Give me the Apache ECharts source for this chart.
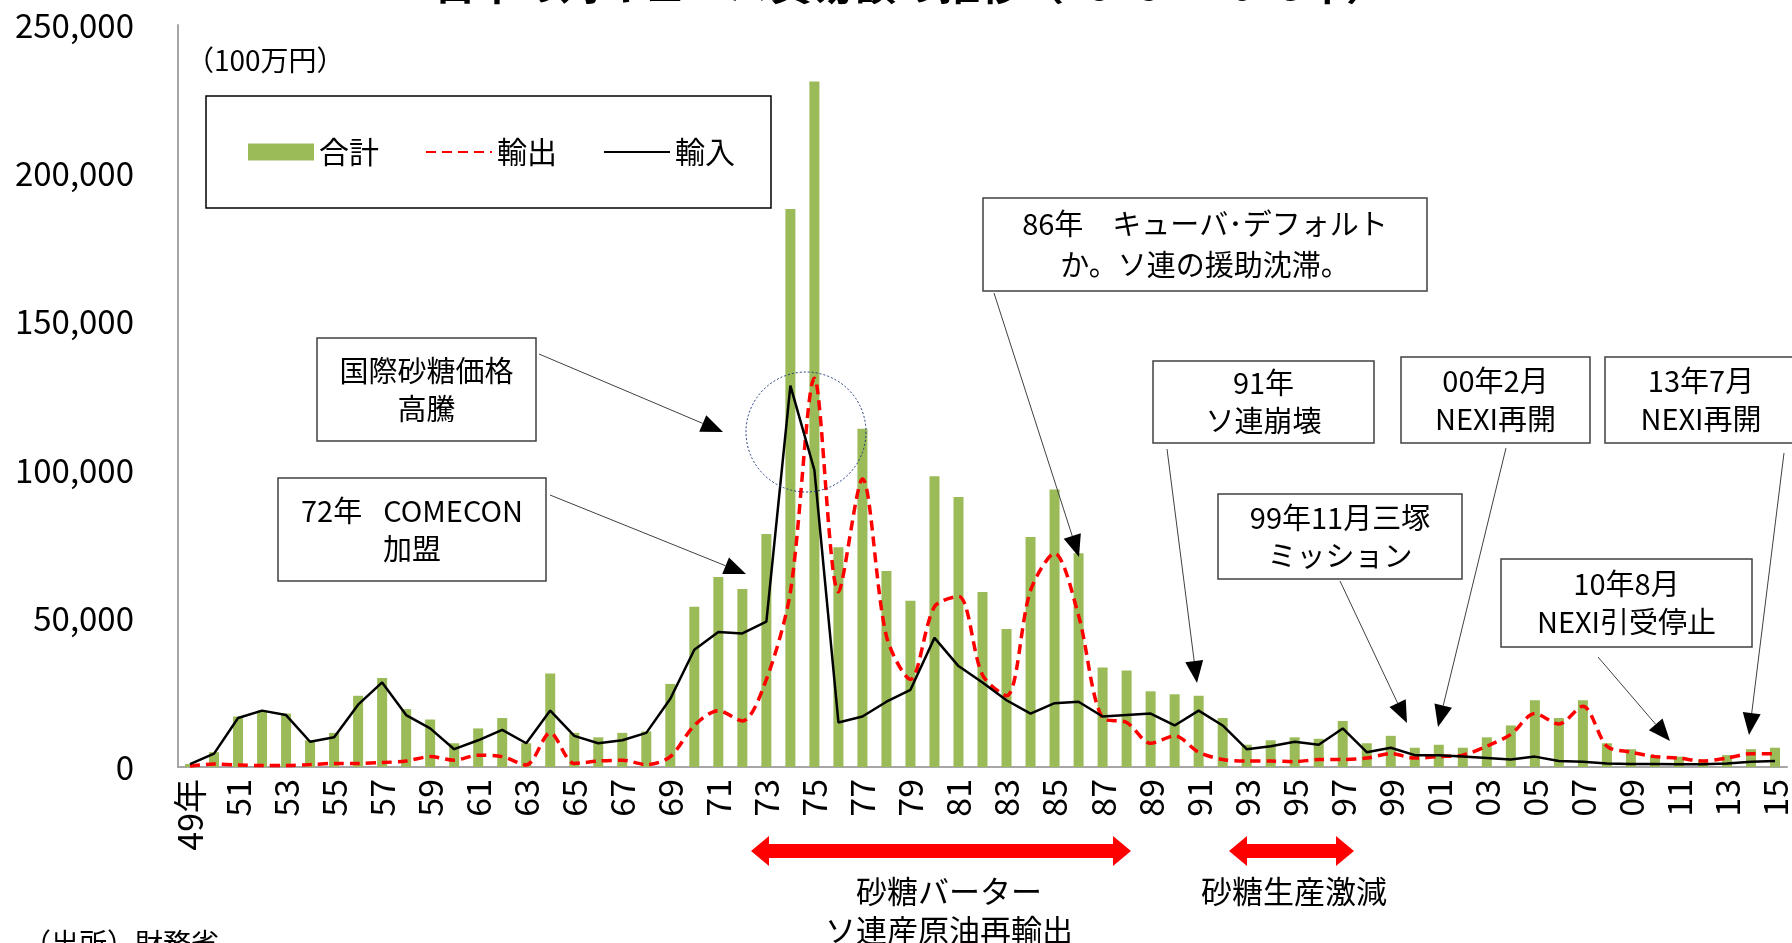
<!DOCTYPE html>
<html>
<head>
<meta charset="utf-8">
<script src="https://cdn.jsdelivr.net/npm/echarts@6/dist/echarts.min.js"></script>
<style>
  body { margin: 0; background: #fff; }
  #main { width: 1792px; height: 943px; }
</style>
</head>
<body>
<div id="main"></div>
<script>
// 年次（1949〜2015）
var years = ['49年', '50', '51', '52', '53', '54', '55', '56', '57', '58', '59',
  '60', '61', '62', '63', '64', '65', '66', '67', '68', '69',
  '70', '71', '72', '73', '74', '75', '76', '77', '78', '79',
  '80', '81', '82', '83', '84', '85', '86', '87', '88', '89',
  '90', '91', '92', '93', '94', '95', '96', '97', '98', '99',
  '00', '01', '02', '03', '04', '05', '06', '07', '08', '09',
  '10', '11', '12', '13', '14', '15'];

// 合計（100万円）
var total = [1000, 5000, 17000, 19000, 18000, 9000, 11500, 24000, 30000, 19500, 16000,
  8000, 13000, 16500, 8000, 31500, 11500, 10000, 11500, 12000, 28000,
  54000, 64000, 60000, 78500, 188000, 231000, 74000, 114000, 66000, 56000,
  98000, 91000, 59000, 46500, 77500, 93500, 72000, 33500, 32500, 25500,
  24500, 24000, 16500, 7500, 9000, 10000, 9500, 15500, 8000, 10500,
  6500, 7500, 6500, 10000, 14000, 22500, 16500, 22500, 8000, 6000,
  4000, 3500, 2500, 4000, 6000, 6500];

// 輸出
var exportsJp = [300, 1000, 700, 500, 500, 800, 1200, 1200, 1500, 2000, 3500,
  2300, 4000, 3500, 700, 11500, 1200, 2000, 2300, 800, 3500,
  14000, 19000, 15500, 29500, 59000, 131000, 59000, 97000, 44000, 29500,
  54000, 57500, 31000, 24000, 59500, 72000, 51000, 16500, 15000, 8000,
  10500, 5000, 2500, 2000, 2000, 1800, 2500, 2500, 3000, 4500,
  3000, 3500, 4000, 7000, 11000, 18000, 14500, 20500, 7000, 5000,
  3500, 3000, 2000, 3000, 4500, 4500];

// 輸入
var importsJp = [1000, 4500, 16500, 19000, 17500, 8500, 10000, 21000, 28500, 17500, 13000,
  6000, 9000, 12500, 8000, 19000, 10500, 8000, 9000, 11500, 23000,
  39500, 45500, 45000, 49000, 128500, 100000, 15000, 17000, 22000, 26000,
  43500, 34000, 28500, 22500, 18000, 21500, 22000, 17000, 17500, 18000,
  14000, 19000, 14000, 6000, 7000, 8500, 7500, 13000, 5000, 6500,
  4000, 4000, 3500, 3000, 2500, 3500, 2000, 1800, 1200, 1000,
  1000, 900, 900, 1200, 1800, 2000];

var FONT = '"Noto Sans CJK JP", "Noto Sans", sans-serif';

// 注記の吹き出し
function box(x, y, w, h, text, lh) {
  return [
    { type: 'rect', shape: { x: x, y: y, width: w, height: h },
      style: { fill: '#fff', stroke: '#404040', lineWidth: 1.5 }, z: 10 },
    { type: 'text', x: x + w / 2, y: y + h / 2, z: 11,
      style: { text: text, fill: '#000', font: '29px ' + FONT, align: 'center',
        verticalAlign: 'middle', lineHeight: lh || 38 } }
  ];
}

// 矢印（細線＋三角）
function arrow(x1, y1, x2, y2) {
  var dx = x2 - x1, dy = y2 - y1, len = Math.sqrt(dx * dx + dy * dy);
  var ux = dx / len, uy = dy / len, L = 22, W = 9;
  var bx = x2 - ux * L, by = y2 - uy * L;
  return [
    { type: 'line', shape: { x1: x1, y1: y1, x2: bx, y2: by },
      style: { stroke: '#404040', lineWidth: 1 }, z: 12 },
    { type: 'polygon', z: 12,
      shape: { points: [[x2, y2], [bx - uy * W, by + ux * W], [bx + uy * W, by - ux * W]] },
      style: { fill: '#000' } }
  ];
}

// 赤い両矢印
function dblArrow(x1, x2, y) {
  var hl = 18, hh = 15, bt = 7;
  return {
    type: 'polygon', z: 10,
    shape: { points: [[x1, y], [x1 + hl, y - hh], [x1 + hl, y - bt], [x2 - hl, y - bt],
      [x2 - hl, y - hh], [x2, y], [x2 - hl, y + hh], [x2 - hl, y + bt],
      [x1 + hl, y + bt], [x1 + hl, y + hh]] },
    style: { fill: '#ff0000' }
  };
}

var graphics = [].concat(
  [{ type: 'text', x: 911, y: 5, style: { text: '日本の対キューバ貿易額の推移（1949～2015年）',
      font: 'bold 42px ' + FONT, fill: '#000', align: 'center', verticalAlign: 'bottom' } },
   { type: 'text', x: 186, y: 60, style: { text: '（100万円）', font: '28px ' + FONT,
      fill: '#000', verticalAlign: 'middle' } },
   { type: 'circle', shape: { cx: 806, cy: 432, r: 60 }, z: 9,
      style: { fill: null, stroke: '#1f3a7a', lineWidth: 1, lineDash: [2, 2] } }],
  box(983, 198, 444, 93, '86年　キューバ･デフォルト\nか。ソ連の援助沈滞。', 41),
  box(317, 338, 219, 103, '国際砂糖価格\n高騰'),
  box(278, 478, 268, 103, '72年\u2002 COMECON\n加盟'),
  box(1153, 361, 221, 82, '91年\nソ連崩壊'),
  box(1401, 357, 189, 86, '00年2月\nNEXI再開'),
  box(1605, 357, 192, 86, '13年7月\nNEXI再開'),
  box(1218, 494, 244, 85, '99年11月三塚\nミッション'),
  box(1501, 559, 251, 88, '10年8月\nNEXI引受停止'),
  arrow(994, 293, 1079, 557),
  arrow(539, 354, 723, 432),
  arrow(550, 495, 746, 574),
  arrow(1167, 449, 1197, 683),
  arrow(1506, 448, 1438, 727),
  arrow(1784, 453, 1749, 735),
  arrow(1340, 581, 1407, 723),
  arrow(1598, 657, 1670, 741),
  [dblArrow(751, 1131, 851), dblArrow(1229, 1354, 851),
   { type: 'text', x: 949, y: 891, style: { text: '砂糖バーター', font: '31px ' + FONT,
      fill: '#000', align: 'center', verticalAlign: 'middle' } },
   { type: 'text', x: 949, y: 930, style: { text: 'ソ連産原油再輸出', font: '31px ' + FONT,
      fill: '#000', align: 'center', verticalAlign: 'middle' } },
   { type: 'text', x: 1294, y: 891, style: { text: '砂糖生産激減', font: '31px ' + FONT,
      fill: '#000', align: 'center', verticalAlign: 'middle' } },
   { type: 'text', x: 23, y: 929, style: { text: '（出所）財務省', font: '28px ' + FONT,
      fill: '#000', verticalAlign: 'top' } }]
);

var chart = echarts.init(document.getElementById('main'));
chart.setOption({
  animation: false,
  textStyle: { fontFamily: FONT },
  grid: { left: 178, right: 3, top: 25, bottom: 176 },
  legend: {
    left: 206, top: 96,
    padding: [41, 36, 41, 42],
    borderColor: '#000', borderWidth: 1.5,
    itemGap: 46, itemWidth: 66, itemHeight: 17,
    textStyle: { fontSize: 30, color: '#000', fontFamily: FONT },
    data: [
      { name: '合計', icon: 'rect' },
      { name: '輸出', itemStyle: { opacity: 0 } },
      { name: '輸入', itemStyle: { opacity: 0 } }
    ]
  },
  xAxis: {
    type: 'category',
    data: years,
    axisTick: { show: false },
    axisLine: { lineStyle: { color: '#a6a6a6', width: 2 } },
    axisLabel: { interval: 1, rotate: 90, fontSize: 34, color: '#000', margin: 12, fontFamily: FONT }
  },
  yAxis: {
    type: 'value',
    min: 0, max: 250000, interval: 50000,
    splitLine: { show: false },
    axisLine: { show: true, lineStyle: { color: '#a6a6a6', width: 2 } },
    axisLabel: {
      fontSize: 33, color: '#000', margin: 44, fontFamily: FONT,
      formatter: function (v) { return v.toLocaleString('en-US'); }
    }
  },
  series: [
    { name: '合計', type: 'bar', data: total, barWidth: 10,
      itemStyle: { color: '#9bbb59' } },
    { name: '輸出', type: 'line', data: exportsJp, symbol: 'none', smooth: 0.3,
      lineStyle: { color: '#ff0000', width: 3.5, type: [10, 6] }, z: 3 },
    { name: '輸入', type: 'line', data: importsJp, symbol: 'none',
      lineStyle: { color: '#000', width: 2.5 }, z: 4 }
  ],
  graphic: graphics
});
</script>
</body>
</html>
